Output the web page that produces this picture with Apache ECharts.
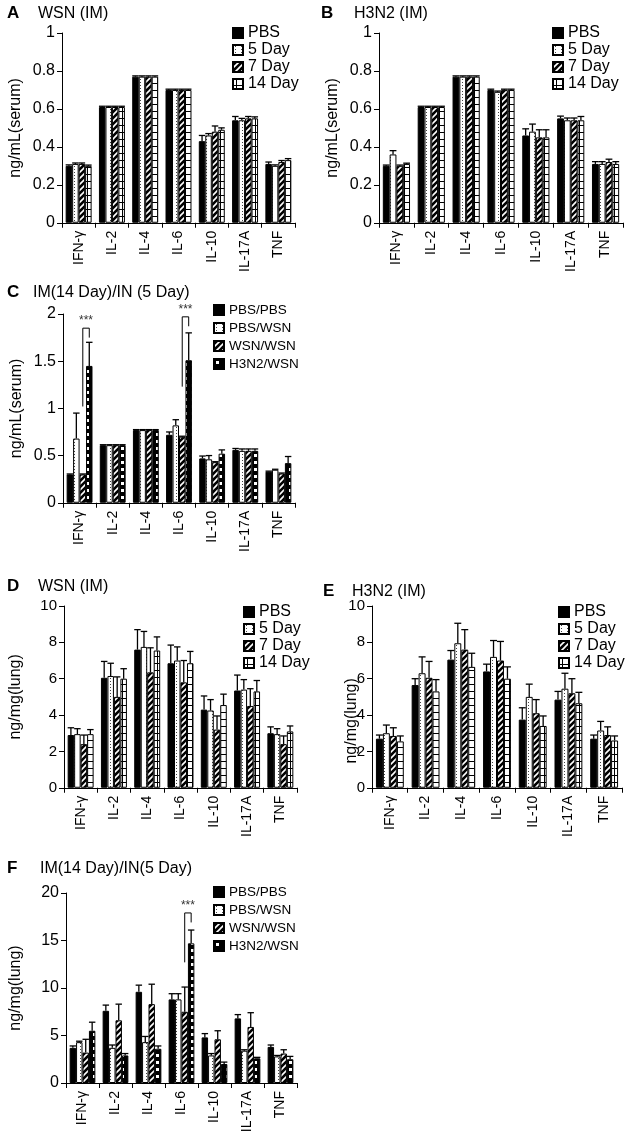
<!DOCTYPE html>
<html>
<head>
<meta charset="utf-8">
<script src="https://cdn.jsdelivr.net/npm/echarts@6/dist/echarts.min.js"></script>
<style>
body{margin:0;background:#fff;width:625px;height:1142px;position:relative;overflow:hidden;}
.panel{position:absolute;}
</style>
</head>
<body>
<div id="pa" class="panel" style="left:0;top:0;width:310px;height:275px"></div>
<div id="pb" class="panel" style="left:310px;top:0;width:315px;height:275px"></div>
<div id="pc" class="panel" style="left:0;top:270px;width:310px;height:285px"></div>
<div id="pd" class="panel" style="left:0;top:545px;width:310px;height:295px"></div>
<div id="pe" class="panel" style="left:310px;top:545px;width:315px;height:295px"></div>
<div id="pf" class="panel" style="left:0;top:835px;width:310px;height:307px"></div>
<script>
// 细胞因子类别
var cytokines = ['IFN-γ', 'IL-2', 'IL-4', 'IL-6', 'IL-10', 'IL-17A', 'TNF'];
var timeGroups = ['PBS', '5 Day', '7 Day', '14 Day'];
var mixGroups = ['PBS/PBS', 'PBS/WSN', 'WSN/WSN', 'H3N2/WSN'];

// A: WSN (IM) serum, 每行一组: PBS, 5 Day, 7 Day, 14 Day
var serumWsnMean = [
	[0.30, 0.61, 0.77, 0.70, 0.43, 0.54, 0.31],
	[0.31, 0.61, 0.77, 0.70, 0.46, 0.54, 0.30],
	[0.31, 0.61, 0.77, 0.70, 0.48, 0.55, 0.32],
	[0.30, 0.61, 0.77, 0.70, 0.49, 0.55, 0.33]
];
var serumWsnErr = [
	[0.005, 0.004, 0.004, 0.004, 0.03, 0.02, 0.01],
	[0.005, 0.004, 0.004, 0.004, 0.01, 0.01, 0.005],
	[0.005, 0.004, 0.004, 0.004, 0.03, 0.01, 0.008],
	[0.004, 0.004, 0.004, 0.004, 0.01, 0.008, 0.008]
];
// B: H3N2 (IM) serum
var serumH3n2Mean = [
	[0.30, 0.61, 0.77, 0.70, 0.46, 0.55, 0.31],
	[0.36, 0.61, 0.77, 0.69, 0.48, 0.54, 0.31],
	[0.30, 0.61, 0.77, 0.70, 0.45, 0.54, 0.32],
	[0.31, 0.61, 0.77, 0.70, 0.45, 0.54, 0.31]
];
var serumH3n2Err = [
	[0.004, 0.004, 0.004, 0.004, 0.035, 0.012, 0.012],
	[0.02, 0.004, 0.004, 0.004, 0.04, 0.012, 0.012],
	[0.004, 0.004, 0.004, 0.004, 0.04, 0.012, 0.015],
	[0.004, 0.004, 0.004, 0.004, 0.04, 0.02, 0.012]
];
// C: IM(14 Day)/IN(5 Day) serum, PBS/PBS, PBS/WSN, WSN/WSN, H3N2/WSN
var serumMixMean = [
	[0.30, 0.61, 0.77, 0.72, 0.47, 0.56, 0.33],
	[0.68, 0.61, 0.77, 0.82, 0.46, 0.55, 0.35],
	[0.30, 0.61, 0.77, 0.70, 0.43, 0.55, 0.31],
	[1.45, 0.61, 0.77, 1.51, 0.52, 0.55, 0.42]
];
var serumMixErr = [
	[0.005, 0.005, 0.005, 0.03, 0.025, 0.015, 0.005],
	[0.27, 0.005, 0.005, 0.06, 0.04, 0.02, 0.005],
	[0.005, 0.005, 0.005, 0.005, 0.005, 0.02, 0.005],
	[0.25, 0.005, 0.005, 0.29, 0.04, 0.02, 0.07]
];
// D: WSN (IM) lung
var lungWsnMean = [
	[2.9, 6.05, 7.6, 6.85, 4.3, 5.35, 3.0],
	[2.95, 6.15, 7.75, 7.0, 4.25, 5.4, 2.95],
	[2.4, 5.0, 6.35, 5.8, 3.2, 4.5, 2.4],
	[2.95, 6.0, 7.55, 6.85, 4.55, 5.3, 3.1]
];
var lungWsnErr = [
	[0.4, 0.9, 1.1, 1.0, 0.75, 0.85, 0.35],
	[0.3, 0.7, 0.85, 0.75, 0.6, 0.55, 0.3],
	[0.5, 1.1, 1.35, 1.2, 0.75, 0.95, 0.45],
	[0.25, 0.55, 0.75, 0.65, 0.6, 0.6, 0.3]
];
// E: H3N2 (IM) lung
var lungH3n2Mean = [
	[2.7, 5.65, 7.05, 6.4, 3.75, 4.85, 2.7],
	[3.0, 6.3, 7.95, 7.2, 5.0, 5.45, 3.15],
	[2.85, 6.05, 7.6, 7.0, 4.1, 5.2, 2.9],
	[2.55, 5.3, 6.65, 6.0, 3.4, 4.65, 2.6]
];
var lungH3n2Err = [
	[0.2, 0.35, 0.5, 0.4, 0.65, 0.45, 0.2],
	[0.45, 0.9, 1.1, 0.9, 0.7, 0.85, 0.5],
	[0.45, 0.9, 1.1, 1.05, 0.75, 0.8, 0.45],
	[0.3, 0.65, 0.75, 0.65, 0.55, 0.6, 0.25]
];
// F: IM(14 Day)/IN(5 Day) lung
var lungMixMean = [
	[3.7, 7.6, 9.6, 8.8, 4.8, 6.8, 3.8],
	[4.3, 3.7, 4.3, 8.8, 2.9, 3.4, 2.8],
	[3.2, 6.6, 8.3, 7.5, 4.6, 5.9, 3.1],
	[5.5, 2.9, 3.6, 14.7, 2.0, 2.6, 2.5]
];
var lungMixErr = [
	[0.2, 0.6, 0.7, 0.6, 0.4, 0.4, 0.2],
	[0.1, 0.3, 0.6, 0.6, 0.2, 0.1, 0.1],
	[1.4, 1.7, 2.1, 2.6, 0.9, 1.5, 0.4],
	[0.9, 0.2, 0.3, 1.4, 0.2, 0.1, 0.3]
];
// 显著性标记: [类别, 左柱, 右柱, 左端y, 顶部y, 右端y, 星号y]
var serumMixSig = [
	[0, 2, 3, 1.02, 1.85, 1.75, 1.93],
	[3, 2, 3, 1.23, 1.97, 1.87, 2.05]
];
var lungMixSig = [
	[3, 2, 3, 12.7, 17.9, 16.9, 18.7]
];

var CAT_GAP = 0.22;

//填充图案
function makeTile(w, h, draw){
	var c = document.createElement('canvas');
	c.width = w; c.height = h;
	var ctx = c.getContext('2d');
	draw(ctx, w, h);
	return {image: c, repeat: 'repeat'};
}
var fillSolid = '#000';
var fillDots = makeTile(6, 3, function(ctx, w, h){
	ctx.fillStyle = '#fff'; ctx.fillRect(0, 0, w, h);
	ctx.fillStyle = '#444'; ctx.fillRect(2, 1, 1, 1);
});
var fillHatch = makeTile(6, 6, function(ctx, w, h){
	ctx.fillStyle = '#000'; ctx.fillRect(0, 0, w, h);
	ctx.strokeStyle = '#fff'; ctx.lineWidth = 1.6;
	ctx.beginPath();
	ctx.moveTo(0, 6); ctx.lineTo(6, 0);
	ctx.moveTo(-3, 3); ctx.lineTo(3, -3);
	ctx.moveTo(3, 9); ctx.lineTo(9, 3);
	ctx.stroke();
});
var fillLines = makeTile(7, 7, function(ctx, w, h){
	ctx.fillStyle = '#fff'; ctx.fillRect(0, 0, w, h);
	ctx.fillStyle = '#000';
	ctx.fillRect(0, 6, 7, 1);
	ctx.fillRect(3, 0, 1, 7);
});
var fillChecker = makeTile(7, 7, function(ctx, w, h){
	ctx.fillStyle = '#000'; ctx.fillRect(0, 0, w, h);
	ctx.fillStyle = '#fff'; ctx.fillRect(2, 2, 3, 3);
});

function barWidthOf(api){
	return api.size([1, 0])[0] * (1 - CAT_GAP) / 4;
}
//误差线
function renderErr(params, api){
	var cat = api.value(0), s = api.value(1);
	var bw = barWidthOf(api);
	var cx = api.coord([cat, 0])[0] + (s - 1.5) * bw;
	var y1 = api.coord([cat, api.value(2)])[1];
	var y2 = api.coord([cat, api.value(3)])[1];
	var st = {stroke: '#000', lineWidth: 1.3};
	return {type: 'group', children: [
		{type: 'line', shape: {x1: cx, y1: y1, x2: cx, y2: y2}, style: st},
		{type: 'line', shape: {x1: cx - bw / 2, y1: y2, x2: cx + bw / 2, y2: y2}, style: st}
	]};
}
//显著性括号
function renderSig(params, api){
	var cat = api.value(0);
	var bw = barWidthOf(api);
	var c0 = api.coord([cat, 0])[0];
	var xl = c0 + (api.value(1) - 1.5) * bw;
	var xr = c0 + (api.value(2) - 1.5) * bw;
	var yl = api.coord([cat, api.value(3)])[1];
	var yt = api.coord([cat, api.value(4)])[1];
	var yr = api.coord([cat, api.value(5)])[1];
	var ys = api.coord([cat, api.value(6)])[1];
	return {type: 'group', children: [
		{type: 'polyline', shape: {points: [[xl, yl], [xl, yt], [xr, yt], [xr, yr]]}, style: {stroke: '#000', lineWidth: 1, fill: null}},
		{type: 'text', style: {text: '***', x: (xl + xr) / 2, y: ys, align: 'center', verticalAlign: 'middle', fontSize: 12, fill: '#333', fontFamily: 'Liberation Sans'}}
	]};
}

function initPanel(cfg){
	var fonts = 'Liberation Sans';
	var series = [];
	for(var s = 0; s < 4; s++){
		series.push({
			name: cfg.groups[s],
			type: 'bar',
			data: cfg.mean[s],
			barGap: '0%',
			barCategoryGap: (CAT_GAP * 100) + '%',
			itemStyle: {color: cfg.fills[s], borderColor: '#000', borderWidth: 1},
			emphasis: {disabled: true}
		});
	}
	var errData = [];
	for(var s2 = 0; s2 < 4; s2++){
		for(var i = 0; i < cytokines.length; i++){
			errData.push([i, s2, cfg.mean[s2][i], cfg.mean[s2][i] + cfg.err[s2][i]]);
		}
	}
	series.push({type: 'custom', renderItem: renderErr, data: errData, encode: {x: 0, y: 3}, z: 5, silent: true});
	if(cfg.sig){
		series.push({type: 'custom', renderItem: renderSig, data: cfg.sig, encode: {x: 0, y: 4}, z: 6, silent: true, clip: false});
	}
	return {
		animation: false,
		textStyle: {fontFamily: fonts, color: '#000'},
		title: {
			text: '{l|' + cfg.letter + '}{t|' + cfg.title + '}',
			left: cfg.titlePos[0], top: cfg.titlePos[1],
			padding: 0,
			textStyle: {fontWeight: 'normal', rich: {
				l: {fontSize: 17, fontWeight: 'bold', width: cfg.letterW, fontFamily: fonts, color: '#000'},
				t: {fontSize: 16, fontWeight: 'normal', fontFamily: fonts, color: '#000'}
			}}
		},
		legend: {
			data: cfg.groups,
			orient: 'vertical',
			left: cfg.legendPos[0], top: cfg.legendPos[1],
			padding: 0,
			itemWidth: 10, itemHeight: 10,
			itemGap: cfg.legendGap,
			icon: 'rect',
			selectedMode: false,
			textStyle: {fontSize: cfg.legendFont, color: '#000', fontFamily: fonts}
		},
		grid: {left: cfg.grid[0], top: cfg.grid[1], width: cfg.grid[2], height: cfg.grid[3], containLabel: false},
		xAxis: {
			type: 'category',
			data: cytokines,
			axisLine: {lineStyle: {color: '#000', width: 1}},
			axisTick: {show: true, length: 5, lineStyle: {color: '#000'}},
			axisLabel: {rotate: 90, fontSize: 14, color: '#000', margin: 8, interval: 0, fontFamily: fonts}
		},
		yAxis: {
			type: 'value',
			min: 0, max: cfg.max, interval: cfg.interval,
			name: cfg.yName,
			nameLocation: 'middle',
			nameGap: cfg.nameGap,
			nameMoveOverlap: false,
			nameTextStyle: {fontSize: 16, color: '#000', fontFamily: fonts, padding: cfg.namePad || 0},
			splitLine: {show: false},
			axisLine: {show: true, lineStyle: {color: '#000', width: 1}},
			axisTick: {show: true, length: 5, lineStyle: {color: '#000'}},
			axisLabel: {fontSize: cfg.tickFont, color: '#000', margin: 7, fontFamily: fonts}
		},
		series: series
	};
}

function setPanel(divId, cfg){
	var myChart = echarts.init(document.getElementById(divId), null, {renderer: 'canvas'});
	myChart.setOption(initPanel(cfg), true);
}

var timeFills = [fillSolid, fillDots, fillHatch, fillLines];
var mixFills = [fillSolid, fillDots, fillHatch, fillChecker];

setPanel('pa', {letter: 'A', title: 'WSN (IM)', titlePos: [7, 5], letterW: 31,
	groups: timeGroups, fills: timeFills, mean: serumWsnMean, err: serumWsnErr,
	legendPos: [232, 25], legendGap: 1, legendFont: 16,
	grid: [61, 33, 234, 192], max: 1, interval: 0.2, tickFont: 16,
	yName: 'ng/mL(serum)', nameGap: 38});
setPanel('pb', {letter: 'B', title: 'H3N2 (IM)', titlePos: [11, 5], letterW: 33,
	groups: timeGroups, fills: timeFills, mean: serumH3n2Mean, err: serumH3n2Err,
	legendPos: [242, 25], legendGap: 1, legendFont: 16,
	grid: [69, 33, 244, 192], max: 1, interval: 0.2, tickFont: 16,
	yName: 'ng/mL(serum)', nameGap: 38});
setPanel('pc', {letter: 'C', title: 'IM(14 Day)/IN (5 Day)', titlePos: [7, 14], letterW: 26,
	groups: mixGroups, fills: mixFills, mean: serumMixMean, err: serumMixErr, sig: serumMixSig,
	legendPos: [213, 33], legendGap: 4, legendFont: 13.5,
	grid: [63, 44, 232, 192], max: 2, interval: 0.5, tickFont: 16,
	yName: 'ng/mL(serum)', nameGap: 38});
setPanel('pd', {letter: 'D', title: 'WSN (IM)', titlePos: [7, 33], letterW: 31,
	groups: timeGroups, fills: timeFills, mean: lungWsnMean, err: lungWsnErr,
	legendPos: [243, 59], legendGap: 1, legendFont: 16,
	grid: [62, 61, 235, 195], max: 10, interval: 2, tickFont: 15,
	yName: 'ng/mg(lung)', nameGap: 40});
setPanel('pe', {letter: 'E', title: 'H3N2 (IM)', titlePos: [13, 38], letterW: 29,
	groups: timeGroups, fills: timeFills, mean: lungH3n2Mean, err: lungH3n2Err,
	legendPos: [248, 59], legendGap: 1, legendFont: 16,
	grid: [62, 61, 250, 195], max: 10, interval: 2, tickFont: 15,
	yName: 'ng/mg(lung)', nameGap: 12, namePad: [0, 48, 0, 0]});
setPanel('pf', {letter: 'F', title: 'IM(14 Day)/IN(5 Day)', titlePos: [7, 25], letterW: 33,
	groups: mixGroups, fills: mixFills, mean: lungMixMean, err: lungMixErr, sig: lungMixSig,
	legendPos: [213, 50], legendGap: 4, legendFont: 13.5,
	grid: [62, 58, 235, 190], max: 20, interval: 5, tickFont: 16,
	yName: 'ng/mg(lung)', nameGap: 42});
</script>
</body>
</html>
